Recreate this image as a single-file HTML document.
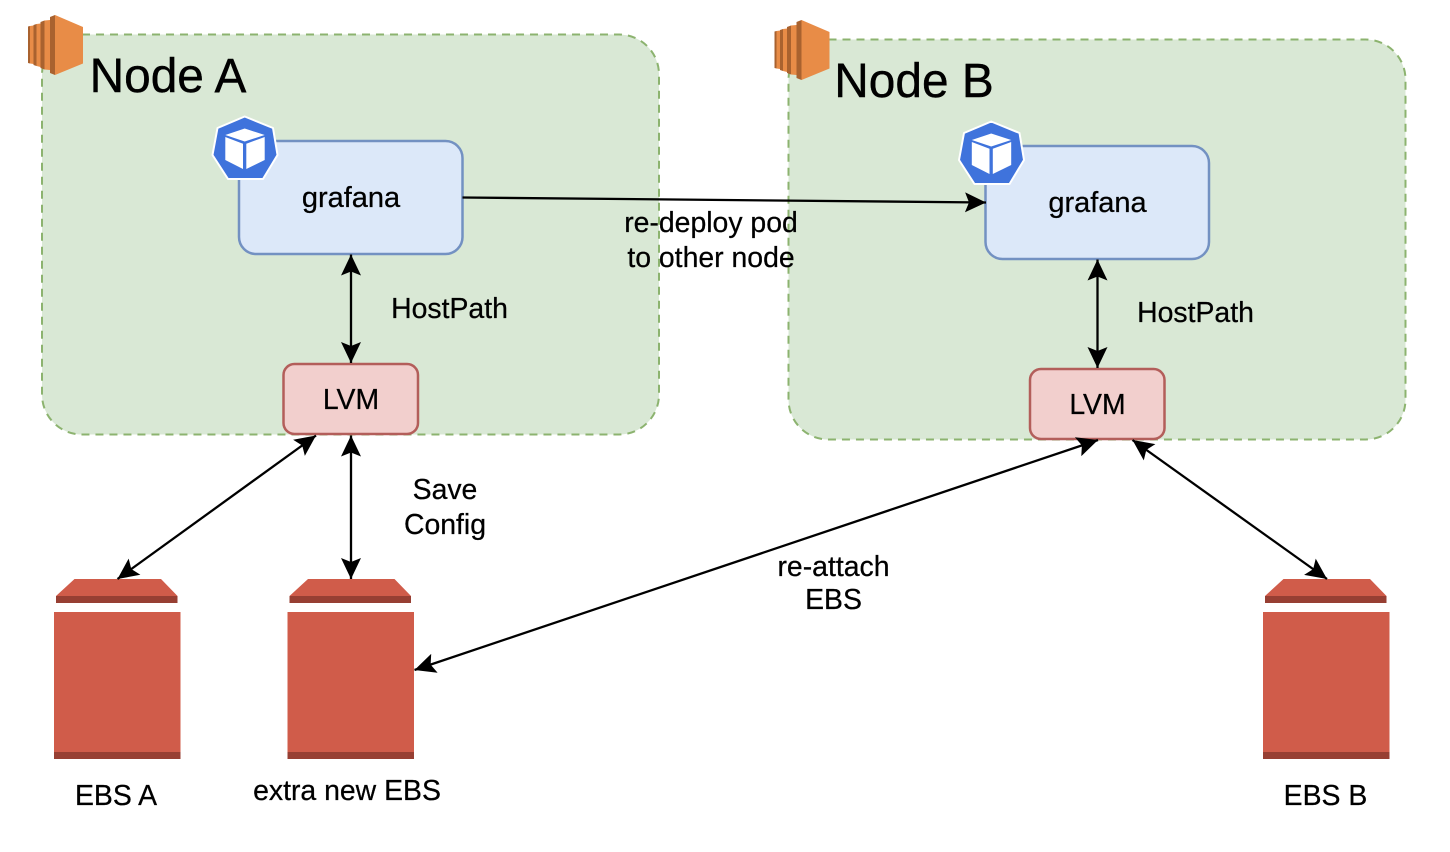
<!DOCTYPE html>
<html>
<head>
<meta charset="utf-8">
<style>
html,body{margin:0;padding:0;background:#fff;width:1450px;height:852px;overflow:hidden}
svg{display:block}
text{font-family:"Liberation Sans",sans-serif;fill:#000;text-anchor:middle;stroke:#000;stroke-width:.25px}
.t{font-size:28.4px}
.n{font-size:47.8px;stroke-width:.4px}
</style>
</head>
<body>
<svg width="1450" height="852" viewBox="0 0 1450 852" xmlns="http://www.w3.org/2000/svg">
<defs>
<marker id="a" markerUnits="userSpaceOnUse" viewBox="0 0 21 20" refX="21" refY="10" markerWidth="21" markerHeight="20" orient="auto-start-reverse">
<path d="M21 10 L0 0 L4 10 L0 20 Z" fill="#000"/>
</marker>
<g id="ec2">
<path d="M28 26.500 L30 26 L30 63.500 L28 63Z" fill="#a9622f"/>
<path d="M30 26 L33.500 25.500 L33.500 64 L30 63.500Z" fill="#e88c47"/>
<path d="M33.500 25 L36.500 24 L36.500 66 L33.500 65Z" fill="#a9622f"/>
<path d="M36.500 24 L40.500 23.500 L40.500 67 L36.500 66Z" fill="#e88c47"/>
<path d="M40.500 22 L44.500 20.500 L44.500 69.500 L40.500 68Z" fill="#a9622f"/>
<path d="M44.500 20.500 L50 20 L50 70 L44.500 69.500Z" fill="#e88c47"/>
<path d="M50 17 L55 15 L55 75 L50 73Z" fill="#a9622f"/>
<path d="M55 15 L83 27 L83 63.500 L55 75Z" fill="#e88c47"/>
</g>
<g id="k8s">
<path d="M244.700 116.500 L273 128 L277.500 155 L263 179 L228 179 L212.500 155 L217.500 128Z" fill="#3f73dc" stroke="#fff" stroke-width="2" stroke-linejoin="round"/>
<path d="M244.700 128.500 L264.700 135 L244.700 141.500 L225.300 135Z" fill="#fff"/>
<path d="M225.300 137 L243 143.700 L243 169 L225.300 160Z" fill="#fff"/>
<path d="M246.300 143.700 L264.700 137 L264.700 160 L246.300 169Z" fill="#fff"/>
</g>
<g id="ebs">
<path d="M0 33 L126.500 33 L126.500 180 L0 180Z" fill="#d05c4a"/>
<rect x="0" y="173" width="126.500" height="7" fill="#973f33"/>
<path d="M2 17 L20.500 0 L107 0 L123.500 17Z" fill="#d05c4a"/>
<rect x="2" y="17" width="121.500" height="7" fill="#973f33"/>
</g>
</defs>

<rect x="42" y="34.500" width="617" height="400" rx="40" ry="40" fill="#d9e8d5" stroke="#8cb36f" stroke-width="2" stroke-dasharray="8 6"/>
<rect x="788.500" y="39.500" width="617" height="400" rx="40" ry="40" fill="#d9e8d5" stroke="#8cb36f" stroke-width="2" stroke-dasharray="8 6"/>

<use href="#ec2"/>
<use href="#ec2" x="746.500" y="5"/>

<text class="n" x="168" y="92">Node A</text>
<text class="n" x="914" y="97">Node B</text>

<rect x="239" y="141" width="223.500" height="113" rx="17" fill="#dce8f9" stroke="#7391c2" stroke-width="2.500"/>
<rect x="985.500" y="146" width="223.500" height="113" rx="17" fill="#dce8f9" stroke="#7391c2" stroke-width="2.500"/>
<use href="#k8s"/>
<use href="#k8s" x="746.500" y="5"/>
<text class="t" x="351" y="207" style="font-size:29px">grafana</text>
<text class="t" x="1097.500" y="212" style="font-size:29px">grafana</text>

<rect x="283.500" y="364" width="134.500" height="70" rx="11" fill="#f2cfcd" stroke="#b35e5a" stroke-width="2.500"/>
<rect x="1030" y="369" width="134.500" height="70" rx="11" fill="#f2cfcd" stroke="#b35e5a" stroke-width="2.500"/>
<text class="t" x="351" y="409">LVM</text>
<text class="t" x="1097.500" y="414">LVM</text>

<use href="#ebs" x="54" y="579"/>
<use href="#ebs" x="287.500" y="579"/>
<use href="#ebs" x="1263" y="579"/>

<g fill="none" stroke="#000" stroke-width="2.300">
<line x1="462.500" y1="197.500" x2="986" y2="202.500" marker-end="url(#a)"/>
<line x1="351" y1="254.500" x2="351" y2="363" marker-start="url(#a)" marker-end="url(#a)"/>
<line x1="1097.500" y1="259.500" x2="1097.500" y2="368" marker-start="url(#a)" marker-end="url(#a)"/>
<line x1="351" y1="435.500" x2="351" y2="579" marker-start="url(#a)" marker-end="url(#a)"/>
<line x1="316" y1="435.500" x2="117.500" y2="579" marker-start="url(#a)" marker-end="url(#a)"/>
<line x1="1098" y1="440" x2="414.500" y2="670" marker-start="url(#a)" marker-end="url(#a)"/>
<line x1="1132.500" y1="440" x2="1327" y2="579" marker-start="url(#a)" marker-end="url(#a)"/>
</g>

<text class="t" x="711" y="232">re-deploy pod</text>
<text class="t" x="711" y="267">to other node</text>
<text class="t" x="449.500" y="318">HostPath</text>
<text class="t" x="1195.500" y="322">HostPath</text>
<text class="t" x="445" y="499">Save</text>
<text class="t" x="445" y="534">Config</text>
<text class="t" x="833.500" y="576">re-attach</text>
<text class="t" x="833.500" y="609">EBS</text>
<text class="t" x="116" y="805">EBS A</text>
<text class="t" x="347" y="800">extra new EBS</text>
<text class="t" x="1325.500" y="805">EBS B</text>
</svg>
</body>
</html>
